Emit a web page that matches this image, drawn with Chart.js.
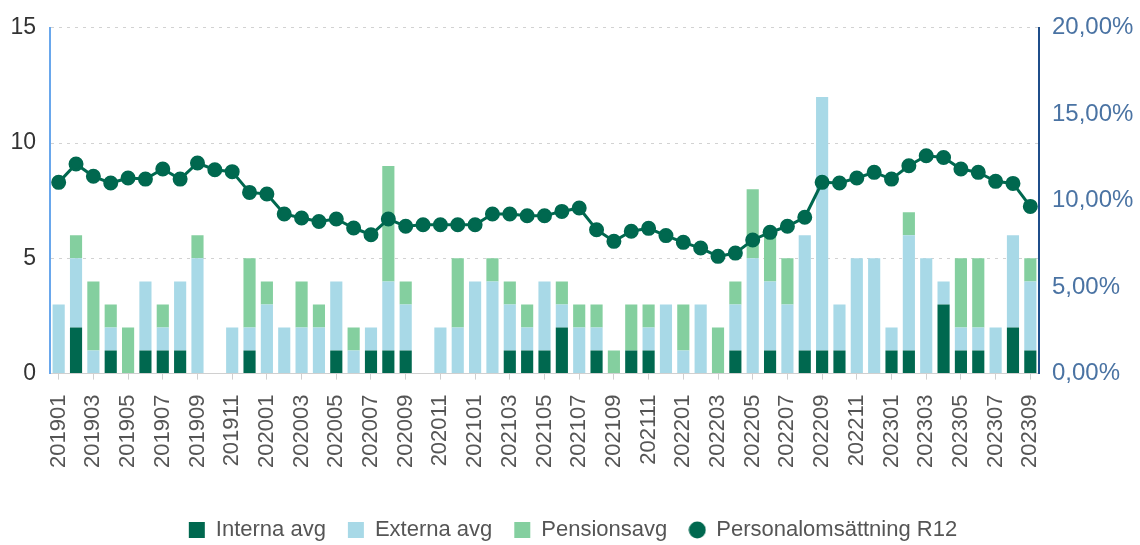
<!DOCTYPE html>
<html>
<head>
<meta charset="utf-8">
<script src="https://cdn.jsdelivr.net/npm/chart.js@4.4.1/dist/chart.umd.min.js"></script>
<style>
html,body{margin:0;padding:0;background:#fff;}
#wrap{width:1140px;height:545px;position:relative;}
</style>
</head>
<body>
<div id="wrap"><canvas id="c"></canvas></div>
<script>
const months = ["201901","201902","201903","201904","201905","201906","201907","201908","201909","201910","201911","201912",
"202001","202002","202003","202004","202005","202006","202007","202008","202009","202010","202011","202012",
"202101","202102","202103","202104","202105","202106","202107","202108","202109","202110","202111","202112",
"202201","202202","202203","202204","202205","202206","202207","202208","202209","202210","202211","202212",
"202301","202302","202303","202304","202305","202306","202307","202308","202309"];

const internaAvg = [0,2,0,1,0,1,1,1,0,0,0,1, 0,0,0,0,1,0,1,1,1,0,0,0, 0,0,1,1,1,2,0,1,0,1,1,0, 0,0,0,1,0,1,0,1,1,1,0,0, 1,1,0,3,1,1,0,2,1];
const externaAvg = [3,3,1,1,0,3,1,3,5,0,2,1, 3,2,2,2,3,1,1,3,2,0,2,2, 4,4,2,1,3,1,2,1,0,0,1,3, 1,3,0,2,5,3,3,5,11,2,5,5, 1,5,5,1,1,1,2,4,3];
const pensionsAvg = [0,1,3,1,2,0,1,0,1,0,0,3, 1,0,2,1,0,1,0,5,1,0,0,3, 0,1,1,1,0,1,1,1,1,2,1,0, 2,0,2,1,3,2,2,0,0,0,0,0, 0,1,0,0,3,3,0,0,1];
const omsattningR12 = [11.06,12.12,11.41,11.02,11.31,11.25,11.83,11.25,12.18,11.79,11.68,10.48,
10.39,9.23,9.00,8.80,8.94,8.42,8.03,8.94,8.52,8.61,8.61,8.61,
8.61,9.23,9.23,9.13,9.13,9.38,9.58,8.32,7.65,8.23,8.40,7.98,
7.59,7.26,6.78,6.97,7.73,8.17,8.52,9.04,11.06,11.02,11.31,11.64,
11.25,12.02,12.60,12.50,11.83,11.64,11.12,11.00,9.67];

const leftTicks = [0,5,10,15];
const rightTicks = [0,5,10,15,20];

const DARK = '#00684f';
const LIGHTBLUE = '#a8d9e7';
const GREEN = '#84cf9f';

Chart.defaults.font.family = "'Liberation Sans', Arial, sans-serif";

// small circle marker for the legend entry of the line
const legendDot = document.createElement('canvas');
legendDot.width = 18; legendDot.height = 18;
(function(){ const g = legendDot.getContext('2d'); g.fillStyle = DARK; g.beginPath(); g.arc(9,9,8.5,0,Math.PI*2); g.fill(); })();

new Chart(document.getElementById('c'), {
  type: 'bar',
  data: {
    labels: months,
    datasets: [
      {label:'Interna avg', data: internaAvg, backgroundColor: DARK, stack:'s', yAxisID:'y', order:1, pointStyle:'rect'},
      {label:'Externa avg', data: externaAvg, backgroundColor: LIGHTBLUE, stack:'s', yAxisID:'y', order:1, pointStyle:'rect'},
      {label:'Pensionsavg', data: pensionsAvg, backgroundColor: GREEN, stack:'s', yAxisID:'y', order:1, pointStyle:'rect'},
      {type:'line', label:'Personalomsättning R12', data: omsattningR12, yAxisID:'y1', order:0,
       borderColor: DARK, backgroundColor: DARK, pointBackgroundColor: DARK, pointBorderColor: DARK,
       borderWidth: 3, pointRadius: 6, pointStyle:'circle', tension: 0, fill:false}
    ]
  },
  options: {
    responsive: true,
    maintainAspectRatio: false,
    animation: false,
    layout: {padding: {left: 10, right: 4, top: 14, bottom: -6}},
    datasets: {bar: {barPercentage: 0.7, categoryPercentage: 1.0}},
    plugins: {
      legend: {
        position: 'bottom',
        labels: {usePointStyle: true, boxWidth: 16, boxHeight: 16, padding: 22, color: '#555',
                 font: {size: 22},
                 sort: (a, b) => a.datasetIndex - b.datasetIndex,
                 generateLabels: (chart) => {
                   const items = Chart.defaults.plugins.legend.labels.generateLabels(chart);
                   items.forEach(it => { if (it.datasetIndex === 3) it.pointStyle = legendDot; });
                   return items;
                 }}
      },
      tooltip: {enabled: false}
    },
    scales: {
      x: {
        stacked: true,
        offset: true,
        afterFit: (a) => { a.height += 14; },
        grid: {display: true, drawOnChartArea: false, drawTicks: true, tickLength: 6, color: '#cfcfcf', offset: false},
        border: {display: true, color: '#d0d0d0', width: 1},
        ticks: {maxRotation: 90, minRotation: 90, autoSkip: true, color: '#555', padding: 15, font: {size: 22}}
      },
      y: {
        stacked: true,
        position: 'left',
        min: 0, max: 15,
        afterBuildTicks: (axis) => { axis.ticks = leftTicks.map(v => ({value: v})); },
        afterFit: (a) => { a.width = 40; },
        grid: {color: '#d2d2d2', drawTicks: false, lineWidth: 1},
        border: {display: true, color: '#69a7ec', width: 2, dash: [3,5]},
        ticks: {color: '#333', padding: 14, font: {size: 23}}
      },
      y1: {
        position: 'right',
        min: 0, max: 20,
        afterBuildTicks: (axis) => { axis.ticks = rightTicks.map(v => ({value: v})); },
        afterFit: (a) => { a.width = 97; },
        grid: {drawOnChartArea: false, drawTicks: false},
        border: {display: true, color: '#1f4e8a', width: 2},
        ticks: {color: '#4a73a3', padding: 13, font: {size: 24},
                callback: (v) => v.toFixed(2).replace('.', ',') + '%'}
      }
    }
  }
});
</script>
</body>
</html>
